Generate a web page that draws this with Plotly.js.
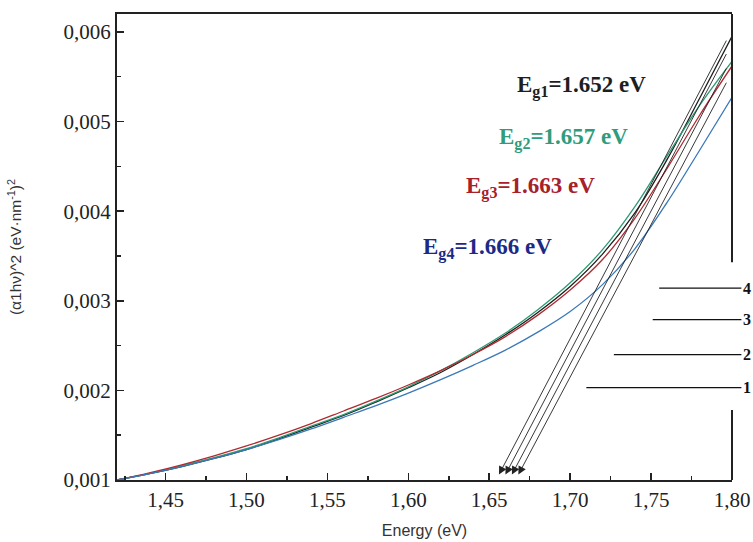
<!DOCTYPE html>
<html>
<head>
<meta charset="utf-8">
<script src="https://cdn.plot.ly/plotly-3.0.1.min.js"></script>
<style>html,body{margin:0;padding:0;background:#fff;}#chart{width:753px;height:542px;}</style>
</head>
<body>
<div id="chart"></div>
<script>
// Energy grid (eV)
const energy = [1.42, 1.44, 1.46, 1.48, 1.50, 1.52, 1.54, 1.56, 1.58, 1.60,
                1.62, 1.64, 1.66, 1.68, 1.70, 1.72, 1.74, 1.76, 1.78, 1.80];
// (α1hν)^2 values for the four samples
const curve1 = [0.00100, 0.00107, 0.00115, 0.00124, 0.00134, 0.00146, 0.00159, 0.00172, 0.00187, 0.00203,
                0.00220, 0.00240, 0.00262, 0.00287, 0.00316, 0.00352, 0.00398, 0.00458, 0.00526, 0.00595];
const curve2 = [0.00100, 0.00107, 0.00116, 0.00125, 0.00135, 0.00147, 0.00160, 0.00173, 0.00188, 0.00204,
                0.00222, 0.00242, 0.00264, 0.00290, 0.00320, 0.00357, 0.00405, 0.00462, 0.00518, 0.00567];
const curve3 = [0.00100, 0.00108, 0.00117, 0.00127, 0.00138, 0.00150, 0.00163, 0.00177, 0.00191, 0.00206,
                0.00222, 0.00240, 0.00260, 0.00284, 0.00312, 0.00346, 0.00392, 0.00448, 0.00507, 0.00562];
const curve4 = [0.00100, 0.00107, 0.00115, 0.00124, 0.00134, 0.00145, 0.00157, 0.00170, 0.00183, 0.00197,
                0.00212, 0.00228, 0.00245, 0.00265, 0.00288, 0.00318, 0.00358, 0.00410, 0.00468, 0.00527];
const curveLabels = ['1', '2', '3', '4'];
// Band gaps
const egNames = ['E<sub>g1</sub>', 'E<sub>g2</sub>', 'E<sub>g3</sub>', 'E<sub>g4</sub>'];
const egValues = ['1.652', '1.657', '1.663', '1.666'];
// Tangent lines: arrow tip energy on baseline and upper end value
const tangentTipE = [1.656, 1.660, 1.664, 1.668];
const tangentTipY = [0.00106, 0.00106, 0.00106, 0.00106];
const tangentTopE = [1.797, 1.797, 1.797, 1.797];
const tangentTopY = [0.00592, 0.00577, 0.00561, 0.00545];
// Number-label leader lines (start energy, level)
const keyStartE = [1.710, 1.727, 1.751, 1.755];
const keyLevel = [0.00203, 0.00240, 0.00279, 0.00314];
// Axis ticks
const xTicks = [1.45, 1.50, 1.55, 1.60, 1.65, 1.70, 1.75, 1.80];
const yTicks = [0.001, 0.002, 0.003, 0.004, 0.005, 0.006];

const colors = ['#1e1e1e', '#2e9a72', '#b02a30', '#3a78b8'];
const egColors = ['#1e1e1e', '#2f9c7c', '#a8202a', '#1c2a86'];
const curves = [curve1, curve2, curve3, curve4];

const traces = curves.map((c, i) => ({
  x: energy, y: c, type: 'scatter', mode: 'lines',
  line: {color: colors[i], width: 1.3, shape: 'spline', smoothing: 1},
  name: curveLabels[i], showlegend: false, hoverinfo: 'skip'
}));

const annotations = [];
egNames.forEach((n, i) => {
  const pos = [[1.6660, 0.00539], [1.6545, 0.00481], [1.6346, 0.00426], [1.6080, 0.00358]][i];
  annotations.push({
    x: pos[0], y: pos[1], xref: 'x', yref: 'y', xanchor: 'left', yanchor: 'middle',
    text: '<b>' + n + '=' + egValues[i] + ' eV</b>', showarrow: false,
    font: {family: 'Liberation Serif, Times New Roman, serif', size: 23, color: egColors[i]}
  });
});
tangentTipE.forEach((e, i) => {
  annotations.push({
    x: e, y: tangentTipY[i], xref: 'x', yref: 'y',
    ax: tangentTopE[i], ay: tangentTopY[i], axref: 'x', ayref: 'y',
    showarrow: true, arrowhead: 2, arrowsize: 1.8, arrowwidth: 0.9, arrowcolor: '#222', text: ''
  });
});
curveLabels.forEach((lab, i) => {
  annotations.push({
    x: keyStartE[i], y: keyLevel[i], xref: 'x', yref: 'y',
    ax: 1.8092, ay: keyLevel[i], axref: 'x', ayref: 'y',
    showarrow: true, arrowhead: 0, arrowwidth: 1.3, arrowcolor: '#111',
    text: '<b>' + lab + '</b>', standoff: 0,
    font: {family: 'Liberation Serif, Times New Roman, serif', size: 16, color: '#111'}
  });
});

const layout = {
  width: 753, height: 542,
  margin: {l: 117, r: 21, t: 14, b: 62},
  paper_bgcolor: '#fff', plot_bgcolor: '#fff',
  separators: ',.',
  showlegend: false,
  xaxis: {
    range: [1.42, 1.80], tickvals: xTicks, tickformat: '.2f',
    ticks: 'inside', ticklen: 7, tickwidth: 1.5, tickcolor: '#222',
    minor: {dtick: 0.025, tick0: 1.425, ticks: 'inside', ticklen: 4, tickwidth: 1.5, tickcolor: '#222'},
    showline: true, linewidth: 2, linecolor: '#222', mirror: true,
    showgrid: false, zeroline: false,
    tickfont: {family: 'Liberation Serif, Times New Roman, serif', size: 21, color: '#222'},
    title: {text: 'Energy (eV)', standoff: 14, font: {family: 'Liberation Sans, Arial, sans-serif', size: 16, color: '#333'}}
  },
  yaxis: {
    range: [0.001, 0.0062], tickvals: yTicks, tickformat: '.3f',
    ticks: 'inside', ticklen: 7, tickwidth: 1.5, tickcolor: '#222',
    minor: {dtick: 0.0005, tick0: 0.0005, ticks: 'inside', ticklen: 4, tickwidth: 1.5, tickcolor: '#222'},
    showline: true, linewidth: 2, linecolor: '#222', mirror: false,
    showgrid: false, zeroline: false,
    tickfont: {family: 'Liberation Serif, Times New Roman, serif', size: 21, color: '#222'},
    title: {text: '(α1hν)^2 (eV·nm<sup>-1</sup>)<sup>2</sup>', standoff: 38, font: {family: 'Liberation Sans, Arial, sans-serif', size: 15.5, color: '#333'}}
  },
  shapes: [
    {type: 'line', xref: 'paper', yref: 'y', x0: 1, x1: 1, y0: 0.0062, y1: 0.00343, line: {color: '#222', width: 2}},
    {type: 'line', xref: 'paper', yref: 'y', x0: 1, x1: 1, y0: 0.00178, y1: 0.001, line: {color: '#222', width: 2}}
  ],
  annotations: annotations
};

Plotly.newPlot('chart', traces, layout, {staticPlot: true, displayModeBar: false});
</script>
</body>
</html>
